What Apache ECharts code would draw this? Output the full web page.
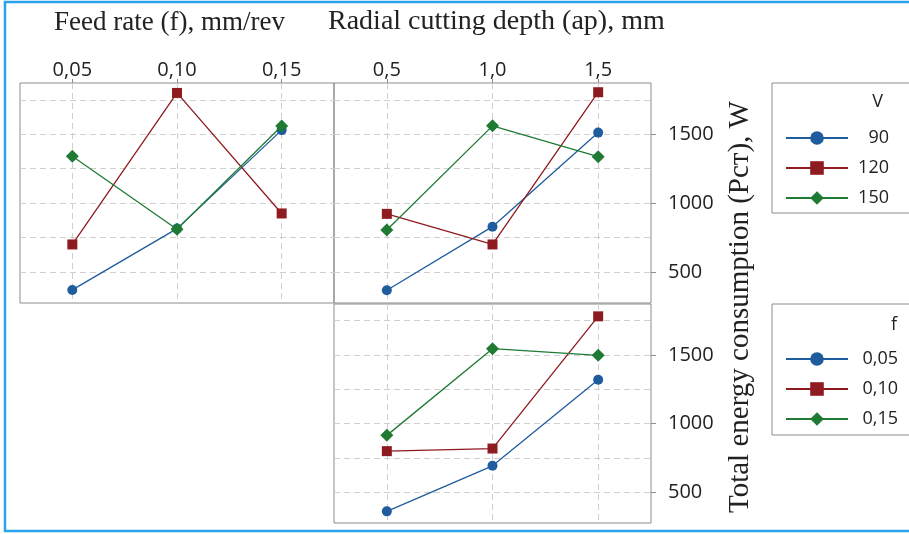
<!DOCTYPE html>
<html>
<head>
<meta charset="utf-8">
<script src="https://cdn.jsdelivr.net/npm/echarts@6/dist/echarts.min.js"></script>
<style>
html,body{margin:0;padding:0;background:#fff;}
#chart{width:909px;height:534px;}
</style>
</head>
<body>
<div id="chart"></div>
<script>
// ---- data ----
const feedCats = ['0,05', '0,10', '0,15'];
const depthCats = ['0,5', '1,0', '1,5'];
const speedLevels = ['90', '120', '150'];
const feedLevels = ['0,05', '0,10', '0,15'];
const yTickValues = [500, 1000, 1500];
const yGridValues = [500, 750, 1000, 1250, 1500, 1750];

// V lines vs feed rate (top-left)
const v90ByFeed = [370, 815, 1530];
const v120ByFeed = [700, 1800, 925];
const v150ByFeed = [1340, 810, 1560];
// V lines vs radial depth (top-right)
const v90ByDepth = [368, 829, 1512];
const v120ByDepth = [922, 700, 1805];
const v150ByDepth = [805, 1561, 1337];
// f lines vs radial depth (bottom)
const f005ByDepth = [360, 692, 1319];
const f010ByDepth = [799, 818, 1782];
const f015ByDepth = [914, 1546, 1498];

const colors = ['#1f5c9e', '#8e1b1f', '#1f7a33'];
const symbols = ['circle', 'rect', 'diamond'];
const symSizes = [10, 10, 13];

const yMin = 275, yMax = 1872;
const serif = '"Liberation Serif", "DejaVu Serif", serif';
const sans = '"Open Sans", "Noto Sans", sans-serif';
const gridColor = '#cfcfcf';
const frameColor = '#8c8c8c';

const grids = [
  {left: 20, top: 83, width: 314, height: 220},
  {left: 334, top: 83, width: 317, height: 220},
  {left: 334, top: 304, width: 317, height: 219}
];

function xAxis(gi, cats, showLabels) {
  return {
    type: 'category', gridIndex: gi, data: cats, position: 'top',
    boundaryGap: true,
    axisLine: {show: false},
    axisTick: {show: showLabels, alignWithLabel: true, length: 4, lineStyle: {color: frameColor}},
    axisLabel: {show: showLabels, fontFamily: sans, fontSize: 20, color: '#222', margin: 3},
    splitLine: {show: true, alignWithLabel: true, lineStyle: {color: gridColor, type: [6, 4]}}
  };
}
function yAxisMain(gi, showLabels) {
  return {
    type: 'value', gridIndex: gi, min: yMin, max: yMax, position: 'right',
    axisLine: {show: false},
    axisTick: {show: showLabels, customValues: yTickValues, length: 5, lineStyle: {color: frameColor}},
    axisLabel: {show: showLabels, customValues: yTickValues, formatter: v => String(v),
      fontFamily: sans, fontSize: 20, color: '#222', margin: 17},
    splitLine: {show: false}
  };
}
function yAxisGrid(gi) {
  return {
    type: 'value', gridIndex: gi, min: yMin, max: yMax, position: 'left',
    axisLine: {show: false},
    axisTick: {show: false, customValues: yGridValues},
    axisLabel: {show: false},
    splitLine: {show: true, lineStyle: {color: gridColor, type: [6, 4]}}
  };
}

function mkSeries(name, data, k, gi) {
  return {
    name: name, type: 'line', xAxisIndex: gi, yAxisIndex: gi * 2, data: data,
    symbol: symbols[k], symbolSize: symSizes[k], showSymbol: true,
    lineStyle: {color: colors[k], width: 1.3},
    itemStyle: {color: colors[k]},
    emphasis: {disabled: true}, animation: false, z: 3 + k
  };
}

const series = [
  mkSeries(speedLevels[0], v90ByFeed, 0, 0),
  mkSeries(speedLevels[1], v120ByFeed, 1, 0),
  mkSeries(speedLevels[2], v150ByFeed, 2, 0),
  mkSeries(speedLevels[0], v90ByDepth, 0, 1),
  mkSeries(speedLevels[1], v120ByDepth, 1, 1),
  mkSeries(speedLevels[2], v150ByDepth, 2, 1),
  mkSeries(feedLevels[0], f005ByDepth, 0, 2),
  mkSeries(feedLevels[1], f010ByDepth, 1, 2),
  mkSeries(feedLevels[2], f015ByDepth, 2, 2)
];

function legend(top, names, labelWidth) {
  return {
    orient: 'vertical', left: 780, top: top, itemWidth: 62, itemHeight: 17, itemGap: 12,
    selectedMode: false, data: names,
    formatter: '{a|{name}}',
    textStyle: {
      fontFamily: sans, fontSize: 18, color: '#222',
      rich: {a: {width: labelWidth, align: 'right', fontFamily: sans, fontSize: 18, color: '#222'}}
    }
  };
}

const option = {
  backgroundColor: '#fff',
  animation: false,
  grid: grids.map(g => Object.assign({show: true, borderColor: frameColor, borderWidth: 1, backgroundColor: 'transparent'}, g)),
  xAxis: [xAxis(0, feedCats, true), xAxis(1, depthCats, true), xAxis(2, depthCats, false)],
  yAxis: [yAxisMain(0, false), yAxisGrid(0), yAxisMain(1, true), yAxisGrid(1), yAxisMain(2, true), yAxisGrid(2)],
  title: [
    {text: 'Feed rate (f), mm/rev', left: 54, top: 9, padding: 0, textStyle: {fontFamily: serif, fontSize: 27, fontWeight: 'normal', color: '#222'}},
    {text: 'Radial cutting depth (ap), mm', left: 328, top: 8, padding: 0, textStyle: {fontFamily: serif, fontSize: 28, fontWeight: 'normal', color: '#222'}},
    {text: 'V', right: 26, top: 93, padding: 0, textStyle: {fontFamily: sans, fontSize: 18, fontWeight: 'normal', color: '#222'}},
    {text: 'f', right: 12, top: 316, padding: 0, textStyle: {fontFamily: sans, fontSize: 18, fontWeight: 'normal', color: '#222'}}
  ],
  legend: [
    legend(124, speedLevels, 36),
    legend(345, feedLevels, 45)
  ],
  graphic: [
    {type: 'rect', shape: {x: 772, y: 83, width: 160, height: 130}, style: {fill: 'none', stroke: frameColor, lineWidth: 1}, silent: true},
    {type: 'rect', shape: {x: 772, y: 304, width: 160, height: 131}, style: {fill: 'none', stroke: frameColor, lineWidth: 1}, silent: true},
    {type: 'text', x: 740, y: 307, rotation: Math.PI / 2, silent: true,
      style: {text: 'Total energy consumption (Pст), W', font: '29px ' + serif, fill: '#222', textAlign: 'center', textVerticalAlign: 'middle'}},
    {type: 'rect', shape: {x: 5, y: 2, width: 930, height: 529}, style: {fill: 'none', stroke: '#27a4ec', lineWidth: 2.5}, silent: true, z: 100}
  ],
  series: series
};

const chart = echarts.init(document.getElementById('chart'), null, {renderer: 'canvas'});
chart.setOption(option);
</script>
</body>
</html>
